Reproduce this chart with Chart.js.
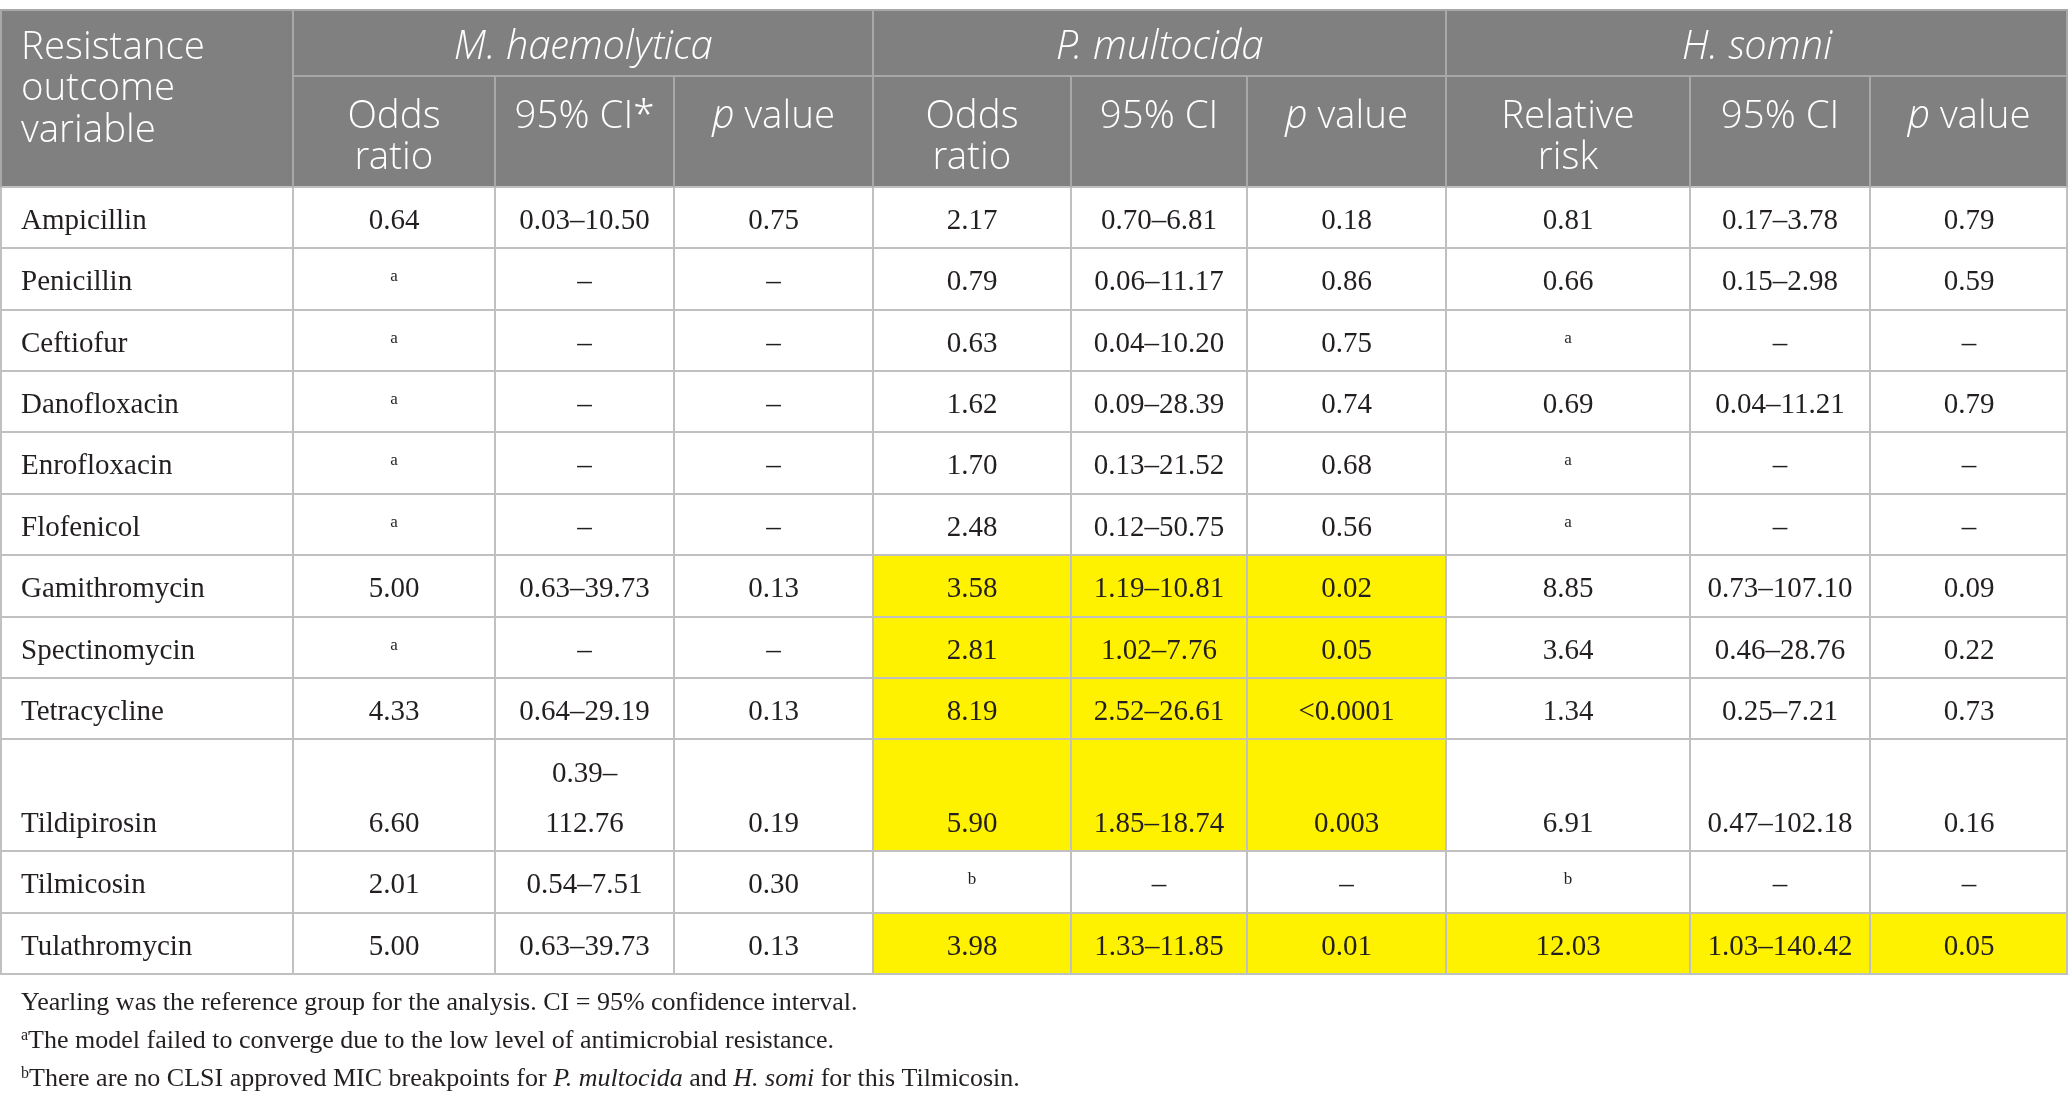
<!DOCTYPE html>
<html><head><meta charset="utf-8">
<script src="https://cdn.jsdelivr.net/npm/chart.js@4.4.1/dist/chart.umd.min.js"></script>
<style>html,body{margin:0;padding:0;background:#fff;}#wrap{width:2068px;height:1105px;position:relative;}</style>
</head><body><div id="wrap"><canvas id="c"></canvas></div>
<script>
// ---------- data ----------
const drugs = ['Ampicillin','Penicillin','Ceftiofur','Danofloxacin','Enrofloxacin','Flofenicol','Gamithromycin','Spectinomycin','Tetracycline','Tildipirosin','Tilmicosin','Tulathromycin'];
const mhOddsRatio = ['0.64','^a','^a','^a','^a','^a','5.00','^a','4.33','6.60','2.01','5.00'];
const mhCI = ['0.03–10.50','–','–','–','–','–','0.63–39.73','–','0.64–29.19','0.39–\n112.76','0.54–7.51','0.63–39.73'];
const mhP = ['0.75','–','–','–','–','–','0.13','–','0.13','0.19','0.30','0.13'];
const pmOddsRatio = ['2.17','0.79','0.63','1.62','1.70','2.48','3.58','2.81','8.19','5.90','^b','3.98'];
const pmCI = ['0.70–6.81','0.06–11.17','0.04–10.20','0.09–28.39','0.13–21.52','0.12–50.75','1.19–10.81','1.02–7.76','2.52–26.61','1.85–18.74','–','1.33–11.85'];
const pmP = ['0.18','0.86','0.75','0.74','0.68','0.56','0.02','0.05','<0.0001','0.003','–','0.01'];
const hsRelRisk = ['0.81','0.66','^a','0.69','^a','^a','8.85','3.64','1.34','6.91','^b','12.03'];
const hsCI = ['0.17–3.78','0.15–2.98','–','0.04–11.21','–','–','0.73–107.10','0.46–28.76','0.25–7.21','0.47–102.18','–','1.03–140.42'];
const hsP = ['0.79','0.59','–','0.79','–','–','0.09','0.22','0.73','0.16','–','0.05'];
const pmSignificant = [false,false,false,false,false,false,true,true,true,true,false,true];
const hsSignificant = [false,false,false,false,false,false,false,false,false,false,false,true];
const cornerHeader = ['Resistance','outcome','variable'];
const groupHeaders = ['_M. haemolytica_','_P. multocida_','_H. somni_'];
const subHeaders = [['Odds','ratio'],['95% CI*'],['_p_ value'],['Odds','ratio'],['95% CI'],['_p_ value'],['Relative','risk'],['95% CI'],['_p_ value']];
const footnotes = [
  'Yearling was the reference group for the analysis. CI = 95% confidence interval.',
  '^aThe model failed to converge due to the low level of antimicrobial resistance.',
  '^bThere are no CLSI approved MIC breakpoints for _P. multocida_ and _H. somi_ for this Tilmicosin.'
];

// ---------- layout (sizes/styles) ----------
const colWidths = [293,202,179,199,198,176,199,244,180,198];
const headerHeights = [66,111];
const rowHeights = drugs.map(d => d === 'Tildipirosin' ? 112 : 61.4);
const BODY_FONT = "'Liberation Serif', 'Times New Roman', serif";
const HEAD_FONT = "'Open Sans Light', 'Open Sans', 'Noto Sans', sans-serif";

const columns = [drugs, mhOddsRatio, mhCI, mhP, pmOddsRatio, pmCI, pmP, hsRelRisk, hsCI, hsP];
const colEdges = [0]; colWidths.forEach(w => colEdges.push(colEdges[colEdges.length-1] + w));
const rowEdges = [0, headerHeights[0], headerHeights[0]+headerHeights[1]];
rowHeights.forEach(h => rowEdges.push(rowEdges[rowEdges.length-1] + h));
const totalW = colEdges[colEdges.length-1];
const totalH = rowEdges[rowEdges.length-1];

function parseRuns(s){
  const runs=[]; let it=false, buf='';
  for (let k=0;k<s.length;k++){
    const ch=s[k];
    if(ch==='_'){ if(buf) runs.push({t:buf,it}); buf=''; it=!it; }
    else if(ch==='^'){ if(buf) runs.push({t:buf,it}); buf=''; runs.push({t:s[k+1],it,sup:true}); k++; }
    else buf+=ch;
  }
  if(buf) runs.push({t:buf,it});
  return runs;
}
function drawRuns(ctx, s, x, y, align, size, family, color, weight, italicSize){
  const runs=parseRuns(s);
  const wt = weight || 400;
  const font = r => {
    const sz = r.sup ? Math.round(size*0.6) : (r.it && italicSize ? italicSize : size);
    return `${r.it?'italic ':''}${wt} ${sz}px ${family}`;
  };
  let w=0;
  runs.forEach(r=>{ctx.font=font(r); r.w=ctx.measureText(r.t).width; w+=r.w;});
  let cx = align==='center' ? x-w/2 : x;
  ctx.fillStyle=color; ctx.textBaseline='middle'; ctx.textAlign='left';
  runs.forEach(r=>{ctx.font=font(r); ctx.fillText(r.t, cx, r.sup ? y - size*0.2 : y); cx+=r.w;});
}

const tablePlugin = {
  id:'table',
  afterDatasetsDraw(chart){
    const {ctx, scales:{x, y}, chartArea} = chart;
    const X = u => x.getPixelForValue(u), Y = v => y.getPixelForValue(v);
    ctx.save();
    // header background
    ctx.fillStyle = '#808080';
    ctx.fillRect(X(0), Y(0), X(totalW)-X(0), Y(rowEdges[2])-Y(0));
    // highlighted cells
    ctx.fillStyle = '#fff200';
    drugs.forEach((d,i)=>{
      const r0 = rowEdges[i+2], r1 = rowEdges[i+3];
      if(pmSignificant[i]) ctx.fillRect(X(colEdges[4]), Y(r0), X(colEdges[7])-X(colEdges[4]), Y(r1)-Y(r0));
      if(hsSignificant[i]) ctx.fillRect(X(colEdges[7]), Y(r0), X(colEdges[10])-X(colEdges[7]), Y(r1)-Y(r0));
    });
    // body grid
    ctx.strokeStyle = '#c0c0c0'; ctx.lineWidth = 2;
    ctx.beginPath();
    for(let k=2;k<rowEdges.length;k++){ const py=Math.round(Y(rowEdges[k])); ctx.moveTo(X(0),py); ctx.lineTo(X(totalW),py); }
    colEdges.forEach((c,k)=>{ let px=Math.round(X(c)); if(k===0) px+=1; if(k===colEdges.length-1) px-=1; ctx.moveTo(px,Y(rowEdges[2])); ctx.lineTo(px,Y(totalH)); });
    ctx.stroke();
    // header grid
    ctx.strokeStyle = '#a8a8a8'; ctx.lineWidth = 2;
    ctx.beginPath();
    ctx.moveTo(X(0),Math.round(Y(0))); ctx.lineTo(X(totalW),Math.round(Y(0)));
    ctx.moveTo(X(colEdges[1]),Math.round(Y(rowEdges[1]))); ctx.lineTo(X(totalW),Math.round(Y(rowEdges[1])));
    [1,4,7].forEach(k=>{ const px=Math.round(X(colEdges[k])); ctx.moveTo(px,Y(0)); ctx.lineTo(px,Y(rowEdges[2])); });
    [2,3,5,6,8,9].forEach(k=>{ const px=Math.round(X(colEdges[k])); ctx.moveTo(px,Y(rowEdges[1])); ctx.lineTo(px,Y(rowEdges[2])); });
    ctx.moveTo(X(0)+1,Y(0)); ctx.lineTo(X(0)+1,Y(rowEdges[2]));
    ctx.moveTo(X(totalW)-1,Y(0)); ctx.lineTo(X(totalW)-1,Y(rowEdges[2]));
    ctx.stroke();
    // header text
    const HS = 38.5, HI = 40, HL = 41.5, HC = '#ffffff';
    cornerHeader.forEach((t,k)=> drawRuns(ctx, t, X(colEdges[0])+21, Y(0)+38.5+k*HL, 'left', HS, HEAD_FONT, HC, 300));
    groupHeaders.forEach((t,g)=>{
      const c0 = colEdges[1+g*3], c1 = colEdges[4+g*3];
      drawRuns(ctx, t, (X(c0)+X(c1))/2, Y(0)+38.5, 'center', HS, HEAD_FONT, HC, 300, HI);
    });
    subHeaders.forEach((lines,k)=>{
      const cx = (X(colEdges[k+1])+X(colEdges[k+2]))/2;
      lines.forEach((t,l)=> drawRuns(ctx, t, cx, Y(rowEdges[1])+41.5+l*HL, 'center', HS, HEAD_FONT, HC, 300, HI));
    });
    // body text
    const BS = 29, BL = 50, BC = '#231f20';
    columns.forEach((col,c)=>{
      col.forEach((val,i)=>{
        const lines = String(val).split('\n');
        const bottom = Y(rowEdges[i+3]) - 27;
        const cx = c===0 ? X(colEdges[0])+21 : (X(colEdges[c])+X(colEdges[c+1]))/2;
        lines.forEach((t,l)=>{
          const ly = bottom - (lines.length-1-l)*BL;
          drawRuns(ctx, t, cx, ly, (c===0 && !t.startsWith('^'))?'left':'center', BS, BODY_FONT, BC);
        });
      });
    });
    // footnotes
    footnotes.forEach((t,k)=> drawRuns(ctx, t, X(0)+21, chartArea.bottom+29+k*38, 'left', 26, BODY_FONT, BC));
    ctx.restore();
  }
};

const anchors = drugs.map((d,i)=>({x:(colEdges[0]+colEdges[1])/2, y:(rowEdges[i+2]+rowEdges[i+3])/2}));
new Chart(document.getElementById('c'), {
  type:'scatter',
  data:{datasets:[{label:'rows', data:anchors, pointRadius:0, pointHoverRadius:0}]},
  options:{
    responsive:true, maintainAspectRatio:false, animation:false, events:[],
    layout:{padding:{top:10,bottom:131,left:0,right:0}},
    scales:{
      x:{type:'linear', min:0, max:totalW, display:false},
      y:{type:'linear', min:0, max:totalH, reverse:true, display:false}
    },
    plugins:{legend:{display:false}, tooltip:{enabled:false}}
  },
  plugins:[tablePlugin]
});
</script>
</body></html>
